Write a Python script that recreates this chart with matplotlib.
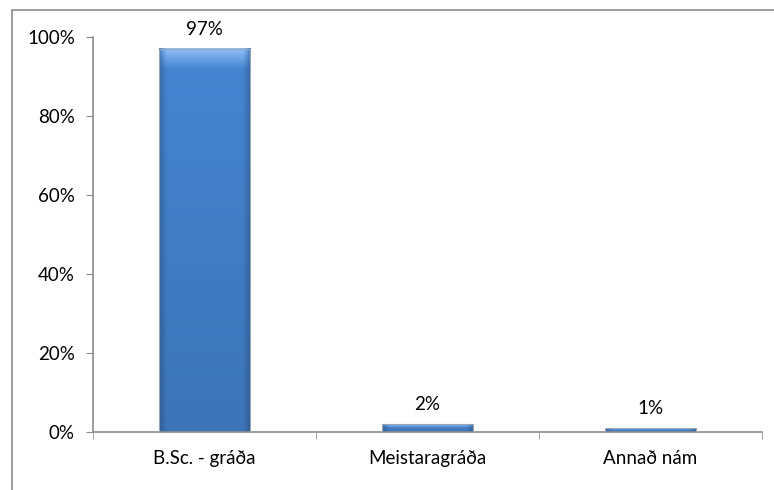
import matplotlib.pyplot as plt
import numpy as np
from matplotlib.patches import Rectangle
from matplotlib.ticker import FuncFormatter

plt.rcParams['font.family'] = ['Lato', 'DejaVu Sans']

# gögn
categories = ['B.Sc. - gráða', 'Meistaragráða', 'Annað nám']
values = [0.97, 0.02, 0.01]
labels = ['97%', '2%', '1%']

fig = plt.figure(figsize=(7.74, 4.90), dpi=100)
ax = fig.add_axes([93 / 774, 1 - 432 / 490, (762 - 93) / 774, (432 - 37) / 490])

# rammi utan um myndina
fig.patches.append(Rectangle((12 / 774, -0.1), 1.2, 1 - 10 / 490 + 0.1,
                             transform=fig.transFigure, fill=False,
                             edgecolor='#8c8c8c', linewidth=1.2))

x = np.arange(len(categories))
width = 0.41

# stöplar með halla (gradient)
base = np.array([0.27, 0.52, 0.82])
nx, ny = 60, 200
u = np.linspace(0, 1, nx)
side = np.clip(np.minimum(u, 1 - u) / 0.08, 0, 1)
for i, (xi, v) in enumerate(zip(x, values)):
    ax.bar(xi, v, width, color='none', edgecolor='#9aa6b4', linewidth=0.8, zorder=3)
    t = np.linspace(0, 1, ny)[:, None]  # 0 = toppur
    top_h = 0.05 / max(v, 0.05) if v > 0.1 else 0.5
    topband = np.clip(1 - t / top_h, 0, 1)
    shade = 0.80 + 0.20 * side[None, :]
    img = base[None, None, :] * shade[:, :, None]
    img = img + (np.array([0.50, 0.70, 0.94]) - img) * (topband[:, :, None] * side[None, :, None] + 0.3 * topband[:, :, None])
    img = img * (1 - 0.12 * t[:, :, None])
    img = np.clip(img, 0, 1)
    ax.imshow(img, extent=[xi - width / 2, xi + width / 2, 0, v], aspect='auto',
              origin='upper', zorder=2, interpolation='bilinear')
    ax.annotate(labels[i], (xi, v), xytext=(0, 8), textcoords='offset points',
                ha='center', va='bottom', fontsize=13.5)

ax.set_xlim(-0.5, 2.5)
ax.set_ylim(0, 1.0)
ax.set_yticks([0, 0.2, 0.4, 0.6, 0.8, 1.0])
ax.yaxis.set_major_formatter(FuncFormatter(lambda y, p: f'{y * 100:.0f}%'))
ax.set_xticks(x)
ax.set_xticklabels(categories)
ax.set_xticks([-0.5, 0.5, 1.5, 2.5], minor=True)
ax.tick_params(axis='x', which='major', length=0, pad=13, labelsize=13.5)
ax.tick_params(axis='x', which='minor', length=5, color='#8c8c8c', direction='out')
ax.tick_params(axis='y', length=5, color='#8c8c8c', direction='out', labelsize=13.5, pad=8)

for s in ['top', 'right']:
    ax.spines[s].set_visible(False)
for s in ['left', 'bottom']:
    ax.spines[s].set_color('#8c8c8c')
    ax.spines[s].set_linewidth(1.2)

plt.savefig('out.png', dpi=100)
